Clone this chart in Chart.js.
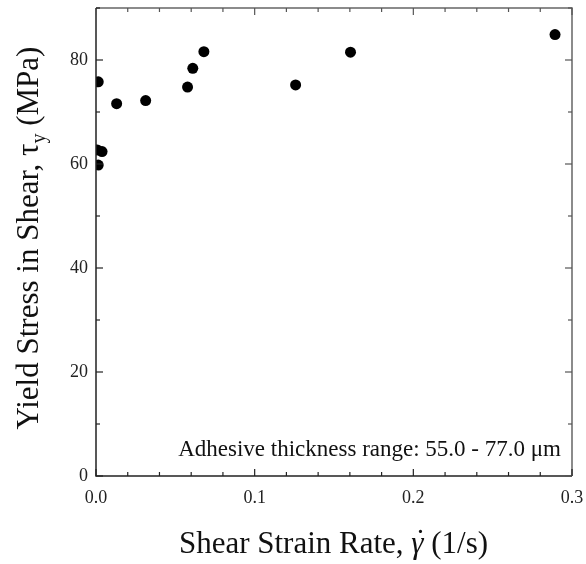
<!DOCTYPE html>
<html>
<head>
<meta charset="utf-8">
<script src="https://cdn.jsdelivr.net/npm/chart.js@4/dist/chart.umd.min.js"></script>
<style>
  html, body { margin: 0; padding: 0; background: #fff; }
  #wrap { width: 586px; height: 564px; }
</style>
</head>
<body>
<div id="wrap"><canvas id="c" width="586" height="564"></canvas></div>
<script>
// Shear strain rate (1/s)
const strainRate = [0.0014, 0.0008, 0.0038, 0.0014, 0.0130, 0.0313, 0.0577, 0.0610, 0.0680, 0.1258, 0.1604, 0.2893];
// Yield stress in shear (MPa)
const yieldStress = [75.8, 62.7, 62.4, 59.8, 71.6, 72.2, 74.8, 78.4, 81.6, 75.2, 81.5, 84.9];
// Tick labels
const xTickValues = [0, 0.1, 0.2, 0.3];
const yTickValues = [0, 20, 40, 60, 80];
const xMinorStep = 0.02;
const yMinorStep = 10;
const annotationText = 'Adhesive thickness range: 55.0 - 77.0 \u03bcm';

const SERIF = '"Liberation Serif", "DejaVu Serif", "Times New Roman", serif';

const framePlugin = {
  id: 'framePlugin',
  afterDraw(chart) {
    const ctx = chart.ctx;
    const a = chart.chartArea;
    const xs = chart.scales.x, ys = chart.scales.y;
    ctx.save();
    ctx.lineWidth = 1.5;
    // frame: top & right lighter
    ctx.strokeStyle = '#666';
    ctx.beginPath();
    ctx.moveTo(a.left, a.top); ctx.lineTo(a.right, a.top); ctx.lineTo(a.right, a.bottom);
    ctx.stroke();
    ctx.strokeStyle = '#222';
    ctx.beginPath();
    ctx.moveTo(a.left, a.top); ctx.lineTo(a.left, a.bottom); ctx.lineTo(a.right, a.bottom);
    ctx.stroke();
    ctx.lineWidth = 1.2;
    // x ticks (bottom and top), inward
    const nx = Math.round((xs.max - xs.min) / xMinorStep);
    for (let i = 0; i <= nx; i++) {
      const v = xs.min + i * xMinorStep;
      const major = xTickValues.some(t => Math.abs(t - v) < 1e-9);
      const len = major ? 7 : 4;
      const px = xs.getPixelForValue(v);
      ctx.strokeStyle = '#222';
      ctx.beginPath(); ctx.moveTo(px, a.bottom); ctx.lineTo(px, a.bottom - len); ctx.stroke();
      ctx.strokeStyle = '#555';
      ctx.beginPath(); ctx.moveTo(px, a.top); ctx.lineTo(px, a.top + len); ctx.stroke();
    }
    const ny = Math.round((ys.max - ys.min) / yMinorStep);
    for (let i = 0; i <= ny; i++) {
      const v = ys.min + i * yMinorStep;
      const major = yTickValues.some(t => Math.abs(t - v) < 1e-9);
      const len = major ? 7 : 4;
      const py = ys.getPixelForValue(v);
      ctx.strokeStyle = '#222';
      ctx.beginPath(); ctx.moveTo(a.left, py); ctx.lineTo(a.left + len, py); ctx.stroke();
      ctx.strokeStyle = '#555';
      ctx.beginPath(); ctx.moveTo(a.right, py); ctx.lineTo(a.right - len, py); ctx.stroke();
    }
    // annotation
    ctx.fillStyle = '#111';
    ctx.font = '23px ' + SERIF;
    ctx.textAlign = 'right';
    ctx.textBaseline = 'alphabetic';
    ctx.fillText(annotationText, a.right - 11, a.bottom - 20);

    // x title: "Shear Strain Rate, γ̇ (1/s)"
    const big = '31px ' + SERIF;
    const bigIt = 'italic 31px ' + SERIF;
    const xParts = [
      {t: 'Shear Strain Rate, ', f: big},
      {t: '\u03b3', f: bigIt, dot: true},
      {t: ' (1/s)', f: big}
    ];
    let total = 0;
    xParts.forEach(p => { ctx.font = p.f; p.w = ctx.measureText(p.t).width; total += p.w; });
    let x0 = 333.5 - total / 2;
    const xb = 553;
    xParts.forEach(p => {
      ctx.font = p.f;
      ctx.textAlign = 'left';
      ctx.fillText(p.t, x0, xb);
      if (p.dot) {
        ctx.font = '31px ' + SERIF;
        ctx.textAlign = 'center';
        ctx.fillText('\u02d9', x0 + p.w / 2 + 3, xb - 2);
      }
      x0 += p.w;
    });

    // y title rotated: "Yield Stress in Shear, τy (MPa)"
    const sub = '20px ' + SERIF;
    const yParts = [
      {t: 'Yield Stress in Shear, \u03c4', f: big, dy: 0},
      {t: 'y', f: sub, dy: 7},
      {t: ' (MPa)', f: big, dy: 0}
    ];
    total = 0;
    yParts.forEach(p => { ctx.font = p.f; p.w = ctx.measureText(p.t).width; total += p.w; });
    ctx.save();
    ctx.translate(38, 238);
    ctx.rotate(-Math.PI / 2);
    ctx.textAlign = 'left';
    let y0 = -total / 2;
    yParts.forEach(p => { ctx.font = p.f; ctx.fillText(p.t, y0, p.dy); y0 += p.w; });
    ctx.restore();
    ctx.restore();
  }
};

new Chart(document.getElementById('c'), {
  type: 'scatter',
  data: {
    datasets: [{
      data: strainRate.map((x, i) => ({x: x, y: yieldStress[i]})),
      backgroundColor: '#000',
      borderColor: '#000',
      pointRadius: 5.5,
      pointHoverRadius: 5.5,
      borderWidth: 0
    }]
  },
  options: {
    responsive: false,
    animation: false,
    layout: { padding: { top: 8, right: 14, left: 0, bottom: 0 } },
    plugins: { legend: { display: false }, tooltip: { enabled: false } },
    scales: {
      x: {
        type: 'linear',
        min: 0, max: 0.3,
        afterBuildTicks: s => { s.ticks = xTickValues.map(v => ({value: v})); },
        afterFit: s => { s.height = 88; s.paddingLeft = 0; s.paddingRight = 0; },
        ticks: {
          callback: v => Number(v).toFixed(1),
          font: { family: SERIF, size: 18 },
          color: '#222',
          padding: 11,
          maxRotation: 0,
          autoSkip: false
        },
        grid: { display: false, drawTicks: false },
        border: { display: false }
      },
      y: {
        type: 'linear',
        min: 0, max: 90,
        afterBuildTicks: s => { s.ticks = yTickValues.map(v => ({value: v})); },
        afterFit: s => { s.width = 96; s.paddingTop = 0; s.paddingBottom = 0; },
        ticks: {
          callback: v => String(v),
          font: { family: SERIF, size: 18 },
          color: '#222',
          padding: 8,
          autoSkip: false
        },
        grid: { display: false, drawTicks: false },
        border: { display: false }
      }
    }
  },
  plugins: [framePlugin]
});
</script>
</body>
</html>
